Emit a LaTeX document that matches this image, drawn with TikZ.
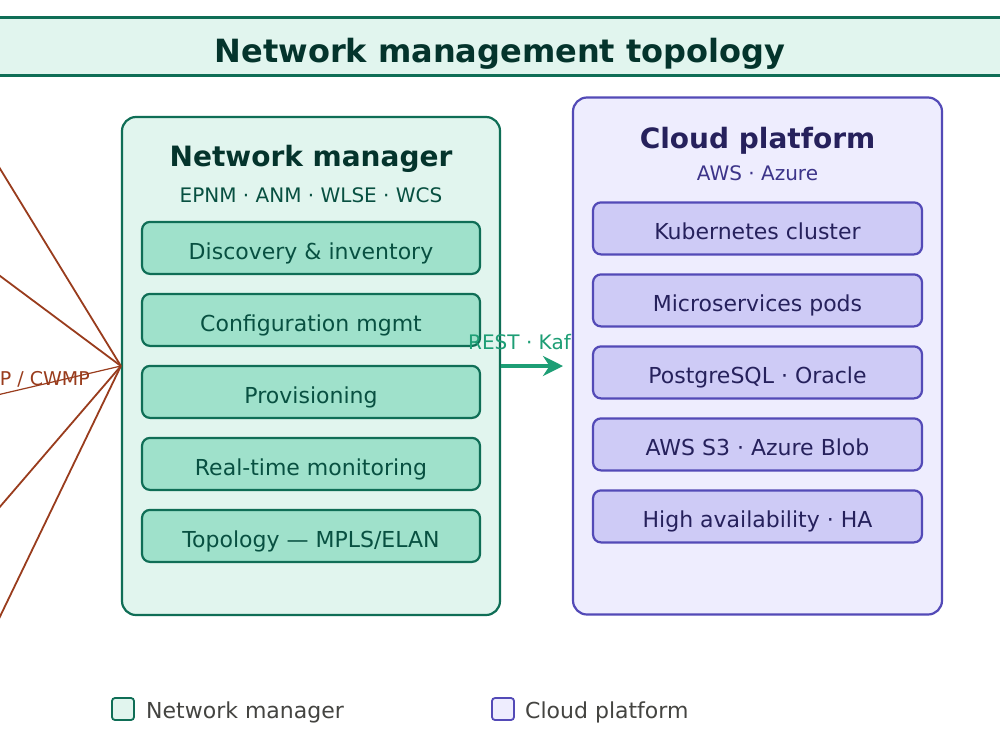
\documentclass[tikz,border=0pt]{standalone}
\usepackage{fontspec}
\setmainfont{DejaVu Sans}
\usepackage{xcolor}
\usetikzlibrary{arrows.meta, positioning}

\definecolor{tealfill}{HTML}{E1F5EE}
\definecolor{tealmid}{HTML}{9FE1CB}
\definecolor{tealline}{HTML}{0F6E56}
\definecolor{tealflow}{HTML}{1D9E75}
\definecolor{tealtext}{HTML}{085041}
\definecolor{tealdark}{HTML}{04342C}
\definecolor{purpfill}{HTML}{EEEDFE}
\definecolor{purpmid}{HTML}{CECBF6}
\definecolor{purpline}{HTML}{534AB7}
\definecolor{purptext}{HTML}{3C3489}
\definecolor{purpdark}{HTML}{26215C}
\definecolor{rustline}{HTML}{993C1D}
\definecolor{legendtext}{HTML}{444441}

\newcommand{\fsz}[1]{\fontsize{#1}{#1}\selectfont}

\begin{document}
\begin{tikzpicture}[x=1pt, y=-1pt, node distance=20pt,
  banner/.style={draw=tealline, fill=tealfill, line width=3pt, minimum width=1040pt, minimum height=58pt},
  headtext/.style={text=tealdark, font=\fsz{32}\bfseries, inner sep=0pt},
  mgrbox/.style={draw=tealline, fill=tealfill, line width=2.2pt, rounded corners=14pt, minimum width=378pt, minimum height=498pt},
  mgritem/.style={draw=tealline, fill=tealmid, line width=2.2pt, rounded corners=8pt, minimum width=338pt, minimum height=52pt, inner sep=0pt, outer sep=0pt, text height=23pt, text depth=0pt, text=tealtext, font=\fsz{22}},
  cloudbox/.style={draw=purpline, fill=purpfill, line width=2.2pt, rounded corners=14pt, minimum width=369pt, minimum height=517pt},
  clouditem/.style={draw=purpline, fill=purpmid, line width=2.2pt, rounded corners=8pt, minimum width=329pt, minimum height=52pt, inner sep=0pt, outer sep=0pt, text height=23pt, text depth=0pt, text=purpdark, font=\fsz{22}},
  mgmtlink/.style={draw=rustline, line width=1.8pt},
  flow/.style={draw=tealflow, line width=4pt, -{Stealth[length=20pt, width=20pt]}},
  legendkey/.style={rounded corners=3pt, line width=1.8pt, minimum size=22pt, inner sep=0pt},
  legendlbl/.style={text=legendtext, font=\fsz{22}, inner sep=0pt, anchor=base west}]

  \useasboundingbox (0,0) rectangle (1000,750);
  \clip (0,0) rectangle (1000,750);
  \fill[white] (0,0) rectangle (1000,750);

  % title banner
  \node[banner] (banner) at (500,46) {};
  \node[headtext, anchor=base] (headline) at (500,62) {Network management topology};

  % managed devices (off to the left)
  \coordinate (dev1) at (-20,136);
  \coordinate (dev2) at (-20,261);
  \coordinate (dev3) at (-20,399);
  \coordinate (dev4) at (-20,530);
  \coordinate (dev5) at (-20,658);

  % network manager
  \node[mgrbox] (mgr) at (311,366) {};
  \draw[mgmtlink] (dev1) -- (mgr.west);
  \draw[mgmtlink] (dev2) -- (mgr.west);
  \draw[mgmtlink, line width=1.2pt] (dev3) -- (mgr.west);
  \draw[mgmtlink] (dev4) -- (mgr.west);
  \draw[mgmtlink] (dev5) -- (mgr.west);
  \node[text=rustline, font=\fsz{19}, inner sep=0pt, anchor=base east] (proto) at (90,385) {P / CWMP};

  \node[text=tealdark, font=\fsz{28}\bfseries, inner sep=0pt, anchor=base] (mgrhead) at (311,166) {Network manager};
  \node[text=tealtext, font=\fsz{20}, inner sep=0pt, anchor=base] (mgrsub) at (311,202) {EPNM · ANM · WLSE · WCS};
  \node[mgritem, below=106pt of mgr.north] (m1) {Discovery \& inventory};
  \node[mgritem, below=of m1] (m2) {Configuration mgmt};
  \node[mgritem, below=of m2] (m3) {Provisioning};
  \node[mgritem, below=of m3] (m4) {Real-time monitoring};
  \node[mgritem, below=of m4] (m5) {Topology — MPLS/ELAN};

  % northbound interface
  \coordinate (apitip) at (563,366);
  \draw[flow] (mgr.east) -- (apitip);
  \node[text=tealflow, font=\fsz{20}, inner sep=0pt, anchor=base west] (apilbl) at (468,349) {REST · Kaf};

  % cloud platform
  \node[cloudbox] (cloud) at (757.5,356) {};
  \node[text=purpdark, font=\fsz{28}\bfseries, inner sep=0pt, anchor=base] (cloudhead) at (757.5,148) {Cloud platform};
  \node[text=purptext, font=\fsz{20}, inner sep=0pt, anchor=base] (cloudsub) at (757.5,180) {AWS · Azure};
  \node[clouditem, below=106pt of cloud.north] (c1) {Kubernetes cluster};
  \node[clouditem, below=of c1] (c2) {Microservices pods};
  \node[clouditem, below=of c2] (c3) {PostgreSQL · Oracle};
  \node[clouditem, below=of c3] (c4) {AWS S3 · Azure Blob};
  \node[clouditem, below=of c4] (c5) {High availability · HA};

  % legend
  \node[legendkey, draw=tealline, fill=tealfill] (keymgr) at (123,709) {};
  \node[legendlbl] (lblmgr) at (146,718) {Network manager};
  \node[legendkey, draw=purpline, fill=purpfill] (keycloud) at (503,709) {};
  \node[legendlbl] (lblcloud) at (525,718) {Cloud platform};
\end{tikzpicture}
\end{document}
